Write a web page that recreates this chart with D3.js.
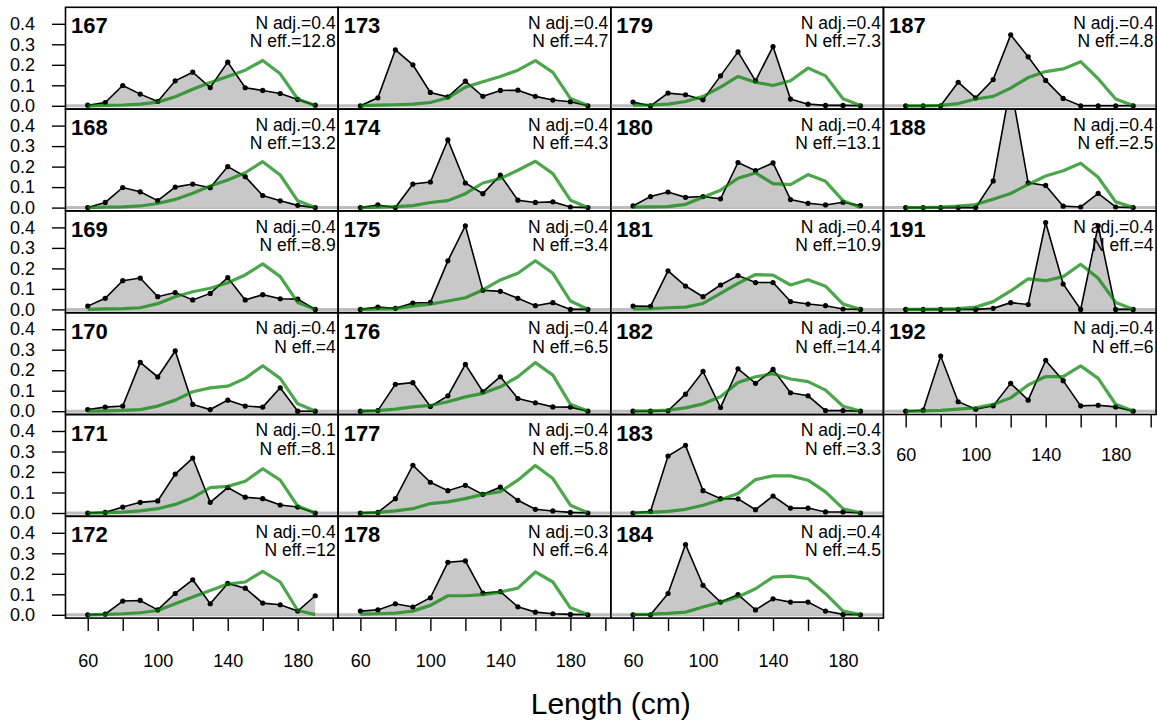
<!DOCTYPE html>
<html>
<head>
<meta charset="utf-8">
<script src="https://cdn.jsdelivr.net/npm/d3@7"></script>
<style>
  html, body { margin: 0; padding: 0; background: #fff; }
  svg { display: block; font-family: "Liberation Sans", Arial, Helvetica, sans-serif; }
</style>
</head>
<body>
<svg id="chart" width="1157" height="720"></svg>
<script>
// ---------------- DATA ----------------
const panelIds = ["167","168","169","170","171","172","173","174","175","176","177","178","179","180","181","182","183","184","187","188","191","192"];
const nAdj = ["0.4","0.4","0.4","0.4","0.1","0.4","0.4","0.4","0.4","0.4","0.4","0.3","0.4","0.4","0.4","0.4","0.4","0.4","0.4","0.4","0.4","0.4"];
const nEff = ["12.8","13.2","8.9","4","8.1","12","4.7","4.3","3.4","6.5","5.8","6.4","7.3","13.1","10.9","14.4","3.3","4.5","4.8","2.5","4","6"];
const lengthBins = [60,70,80,90,100,110,120,130,140,150,160,170,180,190];
const xTickValues = [60,80,100,120,140,160,180,200];
const xTickLabels = [60,100,140,180];
const yTickValues = [0,0.1,0.2,0.3,0.4];
const xTitle = "Length (cm)";

// observed proportions (black)
const observed = [
  [0.003,0.016,0.099,0.057,0.021,0.122,0.164,0.089,0.213,0.088,0.075,0.060,0.031,0.003], //167
  [0.000,0.025,0.098,0.077,0.034,0.100,0.115,0.097,0.200,0.151,0.059,0.033,0.011,0.000], //168
  [0.016,0.054,0.140,0.153,0.062,0.082,0.046,0.078,0.155,0.046,0.072,0.052,0.050,0.000], //169
  [0.008,0.020,0.025,0.238,0.167,0.294,0.033,0.008,0.054,0.025,0.020,0.114,0.000,0.000], //170
  [0.000,0.003,0.029,0.052,0.059,0.190,0.268,0.052,0.124,0.077,0.070,0.039,0.029,0.000], //171
  [0.000,0.003,0.067,0.070,0.024,0.104,0.171,0.054,0.153,0.130,0.057,0.049,0.018,0.093], //172
  [0.000,0.039,0.273,0.200,0.065,0.044,0.120,0.046,0.075,0.076,0.046,0.028,0.020,0.000], //173
  [0.000,0.013,0.000,0.115,0.125,0.330,0.120,0.068,0.158,0.036,0.025,0.028,0.003,0.000], //174
  [0.000,0.011,0.005,0.031,0.034,0.237,0.408,0.093,0.088,0.054,0.018,0.033,0.000,0.000], //175
  [0.000,0.003,0.131,0.139,0.023,0.075,0.229,0.095,0.168,0.062,0.041,0.021,0.020,0.000], //176
  [0.000,0.003,0.070,0.233,0.150,0.109,0.135,0.091,0.126,0.062,0.018,0.010,0.003,0.000], //177
  [0.018,0.024,0.054,0.038,0.083,0.256,0.263,0.106,0.113,0.039,0.013,0.005,0.002,0.000], //178
  [0.018,0.000,0.062,0.054,0.029,0.146,0.263,0.122,0.289,0.033,0.008,0.002,0.002,0.000], //179
  [0.008,0.054,0.076,0.050,0.054,0.043,0.220,0.180,0.218,0.039,0.021,0.013,0.026,0.010], //180
  [0.016,0.015,0.188,0.114,0.062,0.119,0.165,0.131,0.131,0.038,0.026,0.018,0.002,0.000], //181
  [0.000,0.000,0.002,0.083,0.194,0.018,0.207,0.136,0.204,0.090,0.075,0.003,0.003,0.000], //182
  [0.000,0.008,0.278,0.330,0.109,0.070,0.069,0.016,0.083,0.024,0.024,0.005,0.005,0.000], //183
  [0.000,0.000,0.104,0.343,0.144,0.062,0.098,0.024,0.078,0.062,0.062,0.018,0.002,0.000], //184
  [0.000,0.000,0.000,0.115,0.039,0.128,0.346,0.239,0.124,0.036,0.000,0.000,0.000,0.000], //187
  [0.000,0.000,0.000,0.000,0.000,0.130,0.600,0.121,0.108,0.007,0.003,0.069,0.003,0.000], //188
  [0.000,0.000,0.000,0.000,0.000,0.005,0.033,0.024,0.424,0.124,0.000,0.408,0.000,0.000], //191
  [0.000,0.005,0.269,0.046,0.010,0.026,0.136,0.054,0.248,0.149,0.026,0.029,0.021,0.000]  //192
];

// expected proportions (green)
const expected = [
  [0.000,0.002,0.004,0.008,0.018,0.044,0.081,0.114,0.143,0.174,0.221,0.156,0.033,0.001], //167
  [0.000,0.002,0.004,0.008,0.020,0.040,0.070,0.105,0.135,0.170,0.224,0.159,0.033,0.001], //168
  [0.000,0.003,0.004,0.008,0.028,0.062,0.086,0.103,0.130,0.168,0.222,0.160,0.034,0.001], //169
  [0.000,0.002,0.004,0.008,0.025,0.054,0.095,0.114,0.122,0.160,0.222,0.160,0.036,0.001], //170
  [0.000,0.002,0.004,0.010,0.021,0.042,0.075,0.124,0.130,0.155,0.216,0.160,0.034,0.001], //171
  [0.000,0.002,0.005,0.010,0.021,0.054,0.087,0.119,0.150,0.160,0.212,0.160,0.021,0.001], //172
  [0.000,0.003,0.005,0.008,0.016,0.039,0.091,0.117,0.143,0.174,0.220,0.163,0.036,0.001], //173
  [0.000,0.002,0.005,0.010,0.025,0.034,0.068,0.120,0.142,0.182,0.226,0.166,0.036,0.001], //174
  [0.000,0.002,0.004,0.016,0.026,0.041,0.057,0.095,0.144,0.176,0.237,0.176,0.041,0.001], //175
  [0.000,0.003,0.010,0.021,0.028,0.046,0.070,0.087,0.119,0.168,0.237,0.176,0.034,0.001], //176
  [0.000,0.003,0.010,0.021,0.046,0.054,0.070,0.091,0.104,0.160,0.232,0.168,0.038,0.001], //177
  [0.003,0.005,0.008,0.018,0.046,0.093,0.093,0.098,0.111,0.130,0.209,0.160,0.034,0.001], //178
  [0.003,0.004,0.008,0.021,0.046,0.091,0.143,0.115,0.099,0.122,0.184,0.146,0.034,0.001], //179
  [0.002,0.004,0.005,0.016,0.050,0.085,0.143,0.169,0.117,0.112,0.161,0.128,0.034,0.001], //180
  [0.002,0.004,0.008,0.011,0.029,0.078,0.127,0.170,0.167,0.119,0.145,0.113,0.026,0.001], //181
  [0.000,0.002,0.005,0.016,0.036,0.070,0.140,0.168,0.183,0.157,0.144,0.103,0.024,0.001], //182
  [0.002,0.003,0.008,0.018,0.038,0.065,0.095,0.163,0.181,0.181,0.160,0.103,0.021,0.001], //183
  [0.002,0.003,0.007,0.013,0.038,0.062,0.087,0.127,0.184,0.189,0.176,0.103,0.018,0.001], //184
  [0.000,0.000,0.002,0.011,0.033,0.046,0.086,0.138,0.167,0.180,0.215,0.132,0.033,0.001], //187
  [0.000,0.000,0.002,0.007,0.015,0.041,0.069,0.113,0.154,0.180,0.216,0.148,0.028,0.001], //188
  [0.000,0.000,0.002,0.004,0.011,0.038,0.090,0.149,0.140,0.160,0.220,0.152,0.034,0.001], //191
  [0.000,0.002,0.004,0.010,0.016,0.033,0.065,0.128,0.169,0.169,0.221,0.160,0.034,0.001]  //192
];

// ---------------- LAYOUT ----------------
const svg = d3.select("#chart");
const colLeft0 = 65.5, colW = 272.65, rowTop0 = 7.3, rowH = 101.8;
const x = d3.scaleLinear().domain([47.3, 203.1]).range([0, colW]);
const y = d3.scaleLinear().domain([-0.0161, 0.4805]).range([rowH, 0]);

function panelPos(k) {
  if (k < 18) return {col: Math.floor(k / 6), row: k % 6};
  return {col: 3, row: k - 18};
}

const area = d3.area().x(d => x(d[0])).y0(y(0)).y1(d => y(d[1]));
const line = d3.line().x(d => x(d[0])).y(d => y(d[1]));

const defs = svg.append("defs");
defs.append("clipPath").attr("id", "pclip")
  .append("rect").attr("x", 0).attr("y", 0).attr("width", colW).attr("height", rowH);

panelIds.forEach((id, k) => {
  const {col, row} = panelPos(k);
  const g = svg.append("g")
    .attr("transform", `translate(${colLeft0 + col * colW},${rowTop0 + row * rowH})`);
  const obs = lengthBins.map((b, i) => [b, observed[k][i]]);
  const exp = lengthBins.map((b, i) => [b, expected[k][i]]);

  const inner = g.append("g").attr("clip-path", "url(#pclip)");
  inner.append("line")
    .attr("x1", 0).attr("x2", colW).attr("y1", y(0)).attr("y2", y(0))
    .attr("stroke", "#bdbdbd").attr("stroke-width", 3);
  inner.append("path").datum(obs).attr("d", area).attr("fill", "#c8c8c8");
  inner.append("path").datum(obs).attr("d", line)
    .attr("fill", "none").attr("stroke", "#000").attr("stroke-width", 1.6);
  inner.selectAll("circle").data(obs).join("circle")
    .attr("cx", d => x(d[0])).attr("cy", d => y(d[1])).attr("r", 2.6).attr("fill", "#000");
  inner.append("path").datum(exp).attr("d", line)
    .attr("fill", "none").attr("stroke", "#008000").attr("stroke-opacity", 0.7)
    .attr("stroke-width", 3.2).attr("stroke-linejoin", "round");

  g.append("text").attr("x", 5.5).attr("y", 26)
    .attr("font-size", 22).attr("font-weight", "bold").attr("fill", "#000").text(id);
  g.append("text").attr("x", colW - 2.5).attr("y", 21.7).attr("text-anchor", "end")
    .attr("font-size", 17.5).attr("fill", "#000").text("N adj.=" + nAdj[k]);
  g.append("text").attr("x", colW - 2.5).attr("y", 40).attr("text-anchor", "end")
    .attr("font-size", 17.5).attr("fill", "#000").text("N eff.=" + nEff[k]);

  g.append("rect").attr("x", 0).attr("y", 0).attr("width", colW).attr("height", rowH)
    .attr("fill", "none").attr("stroke", "#000").attr("stroke-width", 1.6);

  // left axis on first column
  if (col === 0) {
    const ax = g.append("g").call(
      d3.axisLeft(y).tickValues(yTickValues).tickSize(13.5).tickPadding(17)
        .tickFormat(d3.format(".1f")));
    ax.select(".domain").remove();
    ax.selectAll("line").attr("stroke", "#000").attr("stroke-width", 1.4);
    ax.selectAll("text").attr("font-size", 18).attr("fill", "#000")
      .attr("font-family", "Liberation Sans, Arial, sans-serif");
  }
  // bottom axis on last panel of each column
  const isBottom = (col < 3 && row === 5) || (col === 3 && row === 3);
  if (isBottom) {
    const bx = g.append("g").attr("transform", `translate(0,${rowH})`).call(
      d3.axisBottom(x).tickValues(xTickValues).tickSize(13)
        .tickFormat(d => xTickLabels.includes(d) ? d : ""));
    bx.select(".domain").remove();
    bx.selectAll("line").attr("stroke", "#000").attr("stroke-width", 1.4);
    bx.selectAll("text").attr("font-size", 18).attr("fill", "#000")
      .attr("y", col < 3 ? 49 : 46).attr("dy", 0)
      .attr("font-family", "Liberation Sans, Arial, sans-serif");
  }
});

svg.append("text")
  .attr("x", colLeft0 + 2 * colW).attr("y", 714)
  .attr("text-anchor", "middle").attr("font-size", 30).attr("fill", "#000")
  .text(xTitle);
</script>
</body>
</html>
